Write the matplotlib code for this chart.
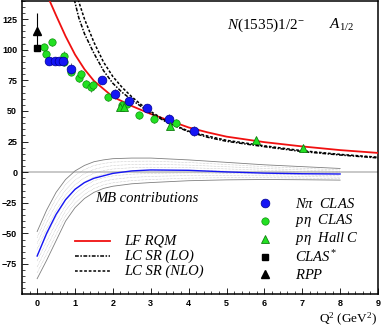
import numpy as np
import matplotlib
matplotlib.use("Agg")
import matplotlib.pyplot as plt
from matplotlib.lines import Line2D
from matplotlib.ticker import MultipleLocator

plt.rcParams['mathtext.fontset'] = 'custom'
plt.rcParams['mathtext.rm'] = 'Liberation Serif'
plt.rcParams['mathtext.it'] = 'Liberation Serif:italic'

# N pi CLAS
npi_x = [0.31, 0.46, 0.59, 0.68, 0.90, 1.70, 2.05, 2.43, 2.89, 3.48, 4.14]
npi_y = [90.5, 91, 91, 90.5, 84.5, 75, 63.5, 58, 52.5, 43.5, 33.5]
npi_err = [3, 3, 3, 3, 5, 3, 4, 3, 3, 4, 4]

# p eta CLAS
peta_x = [0.18, 0.24, 0.39, 0.70, 0.70, 0.90, 1.11, 1.17, 1.29, 1.43, 1.47, 1.88, 2.25, 2.36, 2.69, 3.08, 3.66]
peta_y = [102, 96.5, 106, 95, 90, 82, 76.5, 80.5, 72, 69.5, 71.5, 61.5, 55, 56, 46.5, 43, 40.5]
peta_err = [3, 3, 3, 4, 3, 3, 3, 3, 3, 4, 3, 3, 3, 3, 3, 3, 3]

# p eta Hall C
hallc_x = [2.18, 2.30, 3.50, 5.78, 7.03]
hallc_y = [53, 53.5, 37.5, 26.5, 20]
hallc_err = [3, 3, 3, 2, 2]

# CLAS* and RPP at photon point
clas_x, clas_y = [0.0], [101.5]
rpp_x, rpp_y, rpp_err = [0.0], [115], [15]

# LF RQM
rqm_x = [0.30, 0.5, 0.75, 1.0, 1.25, 1.5, 2.0, 2.5, 3.0, 3.5, 4.0, 4.5, 5.0, 6.0, 7.0, 8.0, 9.0]
rqm_y = [142, 128, 111, 96, 84, 74.5, 61.5, 54, 47.5, 42, 36.5, 32.5, 29, 24.5, 21, 18, 15.7]

# LC SR (LO) and (NLO)
lo_x = [0.98, 1.1, 1.25, 1.5, 1.75, 2.0, 2.25, 2.5, 2.75, 3.0, 3.5, 4.0, 4.5, 5.0, 6.0, 7.0, 8.0, 9.0]
lo_y = [141, 126, 113, 97, 83, 72.5, 65, 59, 53.5, 48, 39.5, 33, 28.5, 25.2, 20.8, 16.8, 14, 11.6]
nlo_x = [1.08, 1.25, 1.5, 1.75, 2.0, 2.25, 2.5, 2.75, 3.0, 3.5, 4.0, 4.5, 5.0, 6.0, 7.0, 8.0, 9.0]
nlo_y = [141, 125, 106, 90, 78, 69, 61.5, 55, 49.5, 40, 33.5, 29.5, 26, 21.5, 17.5, 14.5, 12.2]

# MB contributions with band
mb_x = [0, 0.25, 0.5, 0.75, 1.0, 1.25, 1.5, 1.75, 2.0, 2.5, 3.0, 4.0, 5.0, 6.0, 7.0, 8.0]
mb_y = [-68.5, -50, -34.5, -22.5, -14, -8.5, -5, -3, -1, 1, 1.8, 1.5, 0.2, -0.8, -1.3, -1.5]
mb_hi = [-48.5, -31, -16.5, -6, 1, 5.5, 8.5, 10, 11, 11.5, 11.5, 10, 8, 6, 4.5, 3]
mb_lo = [-87, -72, -56, -40, -29, -21.5, -16.5, -13.3, -11.5, -9.5, -8.5, -7, -6.3, -6, -6.2, -6.5]

blue = '#1515f5'
green = '#22e022'
red = '#f01010'
serif = 'Liberation Serif'

fig = plt.figure(figsize=(3.82, 3.27), dpi=100)
ax = fig.add_axes([22 / 382, 1 - 294 / 327, 356 / 382, 293.3 / 327])

ax.axhline(0, color='#c8c8c8', lw=1.4, zorder=1)

# band: edges and inner dotted lines
hi = np.array(mb_hi)
lo = np.array(mb_lo)
for f in np.linspace(0, 1, 9)[1:-1]:
    ax.plot(mb_x, lo + f * (hi - lo), color='#a8a8a8', lw=0.4, ls=(0, (1, 1.5)), zorder=2)
ax.plot(mb_x, mb_hi, color='#808080', lw=0.6, zorder=2)
ax.plot(mb_x, mb_lo, color='#808080', lw=0.6, zorder=2)
ax.plot(mb_x, mb_y, color=blue, lw=1.0, zorder=3)

ax.plot(rqm_x, rqm_y, color=red, lw=1.3, zorder=4)
ax.plot(lo_x, lo_y, color='black', lw=1.1, ls=(0, (2.5, 1, 1, 1)), zorder=4)
ax.plot(nlo_x, nlo_y, color='black', lw=1.1, ls=(0, (1.8, 1.2)), zorder=4)

ax.errorbar(peta_x, peta_y, yerr=peta_err, fmt='o', ms=5.3, mfc=green, mec='#109010',
            mew=0.5, ecolor='#707070', elinewidth=0.7, capsize=0, zorder=5)
ax.errorbar(npi_x, npi_y, yerr=npi_err, fmt='o', ms=6.3, mfc=blue, mec='#000090',
            mew=0.5, ecolor='#707070', elinewidth=0.7, capsize=0, zorder=6)
ax.errorbar(hallc_x, hallc_y, yerr=hallc_err, fmt='^', ms=6, mfc=green, mec='#108010',
            mew=0.6, ecolor='#707070', elinewidth=0.7, capsize=0, zorder=7)
ax.errorbar(rpp_x, rpp_y, yerr=rpp_err, fmt='^', ms=5.5, color='black',
            elinewidth=0.8, capsize=0, zorder=7)
ax.plot(clas_x, clas_y, 's', ms=4.6, color='black', zorder=8)

ax.set_xlim(-0.4, 9)
ax.set_ylim(-99.5, 140)
ax.xaxis.set_major_locator(MultipleLocator(1))
ax.xaxis.set_minor_locator(MultipleLocator(0.2))
ax.yaxis.set_major_locator(MultipleLocator(25))
ax.yaxis.set_minor_locator(MultipleLocator(5))
ax.tick_params(which='both', direction='in', top=False, right=False)
ax.tick_params(which='major', length=4, width=0.6, pad=3.5)
ax.tick_params(which='minor', length=2.2, width=0.5)
for lab in ax.get_xticklabels() + ax.get_yticklabels():
    lab.set_fontfamily('Liberation Sans')
    lab.set_fontweight('bold')
    lab.set_fontsize(6.5)
for s in ax.spines.values():
    s.set_linewidth(1.1)

# titles
ax.text(0.575, 0.917, r'$\mathit{N(1535)1/2}^{-}$', transform=ax.transAxes,
        fontsize=11, va='center', ha='left')
ax.text(0.862, 0.917, r'$\mathit{A}_{\mathit{1/2}}$', transform=ax.transAxes,
        fontsize=11, va='center', ha='left')
ax.text(0.205, 0.324, 'MB contributions', transform=ax.transAxes,
        fontsize=10.5, style='italic', family=serif, va='center', ha='left')

# line legend
line_rows = [(0.182, dict(color=red, lw=1.3), 'LF RQM'),
             (0.130, dict(color='black', lw=1.1, ls=(0, (2.5, 1, 1, 1))), 'LC SR (LO)'),
             (0.079, dict(color='black', lw=1.1, ls=(0, (1.8, 1.2))), 'LC SR (NLO)')]
for fy, kw, name in line_rows:
    ax.add_line(Line2D([0.149, 0.247], [fy, fy], transform=ax.transAxes, **kw))
    ax.text(0.287, fy, name, transform=ax.transAxes, fontsize=10.5,
            style='italic', family=serif, va='center', ha='left')

# marker legend
mark_rows = [(0.309, dict(marker='o', ms=6.3, mfc=blue, mec='#000090', mew=0.5), r'$N\pi\ \ CLAS$'),
             (0.249, dict(marker='o', ms=5.3, mfc=green, mec='#109010', mew=0.5), r'$p\eta\ \ CLAS$'),
             (0.188, dict(marker='^', ms=6, mfc=green, mec='#108010', mew=0.6), r'$p\eta\ \ Hall\ C$'),
             (0.127, dict(marker='s', ms=4.6, color='black'), r'$CLAS^{*}$'),
             (0.068, dict(marker='^', ms=5.5, color='black'), r'$RPP$')]
for fy, kw, name in mark_rows:
    ax.add_line(Line2D([0.683], [fy], transform=ax.transAxes, ls='none', **kw))
    ax.text(0.767, fy, name, transform=ax.transAxes, fontsize=10.5,
            va='center', ha='left')

fig.text(377 / 382, 1 - 322.5 / 327, r'Q$^{2}$ (GeV$^{2}$)', family=serif,
         fontsize=9.5, ha='right', va='baseline')

fig.savefig('out.png', dpi=100)
